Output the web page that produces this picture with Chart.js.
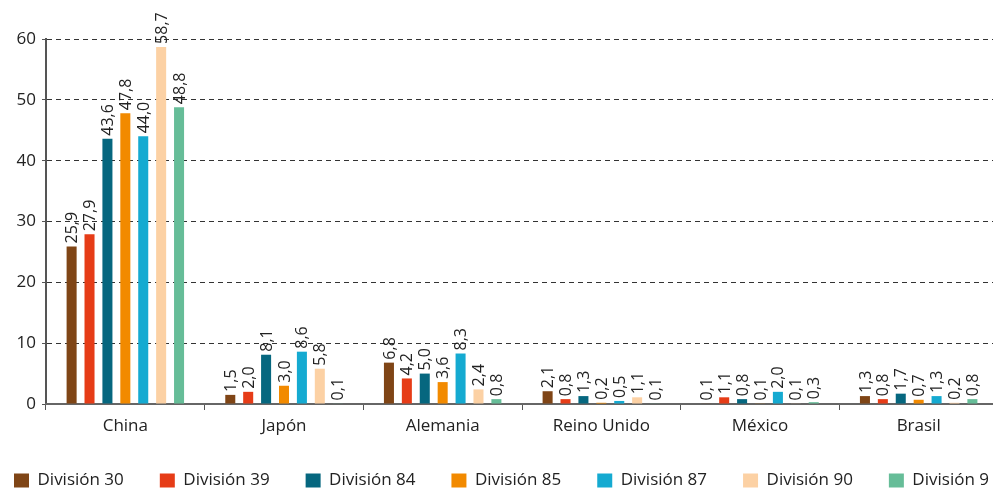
<!DOCTYPE html>
<html>
<head>
<meta charset="utf-8">
<script src="https://cdn.jsdelivr.net/npm/chart.js@4.4.0/dist/chart.umd.min.js"></script>
<style>
  html, body { margin: 0; padding: 0; background: #fff; overflow: hidden; }
  #wrap { position: relative; width: 993px; height: 491px; overflow: hidden; }
  #myChart { position: absolute; left: -22px; top: 0; }
</style>
</head>
<body>
<div id="wrap"><canvas id="myChart" width="1070" height="491"></canvas></div>
<script>
// categories and series
const paises = ["China", "Japón", "Alemania", "Reino Unido", "México", "Brasil"];
const div30 = [25.9, 1.5, 6.8, 2.1, 0.1, 1.3];
const div39 = [27.9, 2.0, 4.2, 0.8, 1.1, 0.8];
const div84 = [43.6, 8.1, 5.0, 1.3, 0.8, 1.7];
const div85 = [47.8, 3.0, 3.6, 0.2, 0.1, 0.7];
const div87 = [44.0, 8.6, 8.3, 0.5, 2.0, 1.3];
const div90 = [58.7, 5.8, 2.4, 1.1, 0.1, 0.2];
const div9x = [48.8, 0.1, 0.8, 0.1, 0.3, 0.8];
const yTicks = [0, 10, 20, 30, 40, 50, 60];

const series = [
	{ label: "División 30", data: div30, color: "#7f4516" },
	{ label: "División 39", data: div39, color: "#e63c17" },
	{ label: "División 84", data: div84, color: "#06677f" },
	{ label: "División 85", data: div85, color: "#f28a00" },
	{ label: "División 87", data: div87, color: "#15aad1" },
	{ label: "División 90", data: div90, color: "#fcd1a4" },
	{ label: "División 9", data: div9x, color: "#66bd98" }
];

const FONT = "'Open Sans', sans-serif";

// rotated value labels above the bars
const valueLabels = {
	id: "valueLabels",
	afterDatasetsDraw(chart) {
		const ctx = chart.ctx;
		ctx.save();
		ctx.font = "16px " + FONT;
		ctx.fillStyle = "#222";
		ctx.textAlign = "left";
		ctx.textBaseline = "middle";
		chart.data.datasets.forEach((ds, i) => {
			const meta = chart.getDatasetMeta(i);
			meta.data.forEach((bar, j) => {
				const txt = ds.data[j].toFixed(1).replace(".", ",");
				ctx.save();
				ctx.translate(bar.x + 1, bar.y - 3);
				ctx.rotate(-Math.PI / 2);
				ctx.fillText(txt, 0, 0);
				ctx.restore();
			});
		});
		ctx.restore();
	}
};

const ctx = document.getElementById("myChart");
new Chart(ctx, {
	type: "bar",
	data: {
		labels: paises,
		datasets: series.map(s => ({
			label: s.label,
			data: s.data,
			backgroundColor: s.color,
			borderWidth: 0,
			categoryPercentage: 0.79,
			barPercentage: 0.56
		}))
	},
	options: {
		responsive: false,
		animation: false,
		layout: { padding: { top: 39, left: 0, right: 0, bottom: -8 } },
		plugins: {
			tooltip: { enabled: false },
			legend: {
				position: "bottom",
				align: "start",
				labels: {
					font: { family: FONT, size: 17 },
					color: "#222",
					boxWidth: 15,
					boxHeight: 14,
					padding: 36
				}
			}
		},
		scales: {
			y: {
				min: 0,
				max: 60,
				afterBuildTicks: (scale) => { scale.ticks = yTicks.map(v => ({ value: v })); },
				afterFit: (scale) => { scale.width = 68; },
				border: { display: true, color: "#555", width: 2, dash: [5, 4] },
				grid: {
					color: "#333",
					lineWidth: 1,
					tickLength: 4,
					tickColor: "#555"
				},
				ticks: {
					font: { family: FONT, size: 17 },
					color: "#222",
					padding: 6
				}
			},
			// empty right axis only keeps room on the right of the plot
			yRight: {
				position: "right",
				min: 0,
				max: 60,
				afterFit: (scale) => { scale.width = 50; },
				border: { display: false },
				grid: { drawOnChartArea: false, drawTicks: false },
				ticks: { display: false }
			},
			x: {
				afterFit: (scale) => { scale.height = 32; },
				border: { display: true, color: "#666", width: 2 },
				grid: {
					offset: true,
					drawOnChartArea: false,
					drawTicks: true,
					tickLength: 6,
					color: "#555"
				},
				ticks: {
					font: { family: FONT, size: 17 },
					color: "#222",
					padding: 6
				}
			}
		}
	},
	plugins: [valueLabels]
});
</script>
</body>
</html>
